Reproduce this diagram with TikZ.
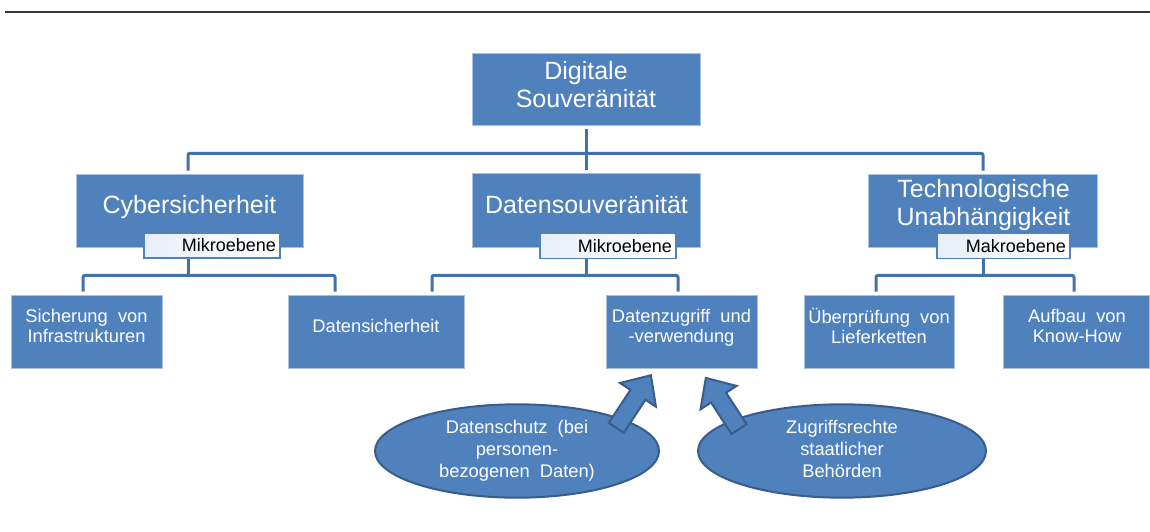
\documentclass[tikz,border=0pt]{standalone}
\usepackage{fontspec}
\setmainfont{Liberation Sans}
\newfontfamily\widefont[WordSpace=2.0]{Liberation Sans}
\usetikzlibrary{shapes.geometric,shapes.arrows,calc}
\definecolor{boxblue}{HTML}{4F81BD}
\definecolor{edgeblue}{HTML}{385D8A}
\definecolor{lineblue}{HTML}{4372AA}
\definecolor{boxedge}{HTML}{A9C0DE}
\definecolor{mikrofill}{HTML}{E8EEF7}
\definecolor{rulegray}{HTML}{3A3A3A}
\tikzset{
  bbox/.style={fill=boxblue, draw=boxedge, line width=0.6pt, inner sep=0pt},
  bigtext/.style={text=white, font=\fontsize{25}{28}\selectfont, align=center, inner sep=0pt},
  smalltext/.style={text=white, font=\widefont\fontsize{18.3}{20}\selectfont, align=center, inner sep=0pt},
  levelbox/.style={draw=boxblue, line width=1.2pt, left color=mikrofill, right color=white,
    minimum width=136pt, minimum height=25pt, inner sep=0pt, font=\fontsize{18}{20}\selectfont,
    text=black, align=right, text width=128pt},
  conn/.style={draw=lineblue, line width=3pt, rounded corners=2pt},
  oval/.style={ellipse, fill=boxblue, draw=edgeblue, line width=2pt, minimum width=284pt,
    minimum height=86pt, inner sep=0pt, text=white, font=\widefont\fontsize{18.3}{22}\selectfont, align=center},
  blockarrow/.style={single arrow, fill=boxblue, draw=edgeblue, line width=2pt, inner xsep=0pt,
    inner ysep=8pt, single arrow head extend=12.5pt, single arrow tip angle=85, anchor=tip},
}
\begin{document}
\begin{tikzpicture}[x=1pt,y=-1pt]
\useasboundingbox (0,0) rectangle (1150,532);
\fill[white] (0,0) rectangle (1150,532);
% top rule
\draw[rulegray, line width=2pt] (5,12) -- (1150,12);

% level 1
\node[bbox, minimum width=228pt, minimum height=72pt] (top) at (586,89) {};
\node[bigtext] (toptext) at (586,87.4) {\strut Digitale\\\strut Souveränität};

% level 2
\node[bbox, minimum width=227pt, minimum height=73pt] (cyber) at (189.5,210.5) {};
\node[bigtext] (cybertext) at (189.5,207.4) {\strut Cybersicherheit};
\node[bbox, minimum width=228pt, minimum height=74pt] (datens) at (586,210) {};
\node[bigtext] (datenstext) at (586.5,207.4) {\strut Datensouveränität};
\node[bbox, minimum width=229pt, minimum height=73pt] (tech) at (982.5,210.5) {};
\node[bigtext] (techtext) at (983.5,205.9) {\strut Technologische\\\strut Unabhängigkeit};

\node[levelbox] (m1) at (212,245.5) {Mikroebene};
\node[levelbox] (m2) at (608,246) {Mikroebene};
\node[levelbox, minimum width=133pt, text width=125pt] (m3) at (1003.5,246) {Makroebene};

% leaves
\node[bbox, minimum width=151pt, minimum height=73pt] (sich) at (86.5,331.5) {};
\node[smalltext] (sichtext) at (86.5,328) {\strut Sicherung von\\\strut Infrastrukturen};
\node[bbox, minimum width=176pt, minimum height=73pt] (dsich) at (376,331.5) {};
\node[smalltext] (dsichtext) at (376,328) {\strut Datensicherheit};
\node[bbox, minimum width=151pt, minimum height=73pt] (dz) at (681.5,331.5) {};
\node[smalltext] (dztext) at (681.5,328.5) {\strut Datenzugriff und\\\strut -verwendung};
\node[bbox, minimum width=150pt, minimum height=73pt] (ueb) at (879,331.5) {};
\node[smalltext] (uebtext) at (879,328.5) {\strut Überprüfung von\\\strut Lieferketten};
\node[bbox, minimum width=146pt, minimum height=73pt] (aufb) at (1076,331.5) {};
\node[smalltext] (aufbtext) at (1077,328.5) {\strut Aufbau von\\\strut Know-How};

% connectors level 1 -> 2
\coordinate (j0) at ($(top.south)+(0,28)$);
\draw[conn] ($(top.south)+(0,4)$) -- ($(datens.north)+(0,-3)$);
\draw[conn] ($(cyber.north)+(-1.5,-3)$) |- (j0) -| ($(tech.north)+(0.5,-3)$);

% connectors level 2 -> leaves
\coordinate (j1) at ($(cyber.south)+(-1.5,28)$);
\draw[conn] (m1.south -| j1) -- (j1);
\draw[conn] ($(sich.north)+(-3.5,-3)$) |- (j1) -| ($(dsich.north)+(-41,-3)$);
\coordinate (j2) at ($(datens.south)+(0,28)$);
\draw[conn] (m2.south -| j2) -- (j2);
\draw[conn] ($(dsich.north)+(56,-3)$) |- (j2) -| ($(dz.north)+(-3.5,-3)$);
\coordinate (j3) at ($(tech.south)+(0.5,28)$);
\draw[conn] (m3.south -| j3) -- (j3);
\draw[conn] ($(ueb.north)+(-3,-3)$) |- (j3) -| ($(aufb.north)+(-2,-3)$);

% ellipses
\node[oval] (e1) at (517,451) {\strut Datenschutz (bei\\\strut personen-\\\strut bezogenen Daten)};
\node[oval, minimum width=288pt] (e2) at (842,451) {\strut Zugriffsrechte\\\strut staatlicher\\\strut Behörden};

% block arrows
\node[blockarrow, minimum height=63pt, rotate=56.6] (a1) at (651.7,374) {};
\node[blockarrow, minimum height=61pt, rotate=123] (a2) at (705,376.7) {};
\end{tikzpicture}
\end{document}
